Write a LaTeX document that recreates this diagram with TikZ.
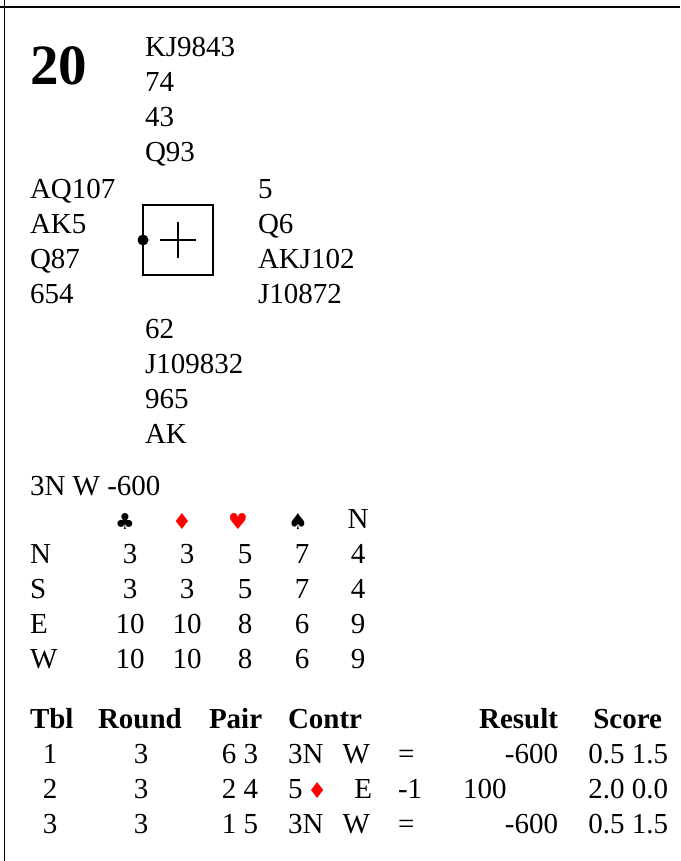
\documentclass[tikz,border=0pt]{standalone}
\usepackage{fontspec}
\setmainfont{Liberation Serif}
\newfontfamily\symf{DejaVu Sans}
\definecolor{suitred}{RGB}{255,0,0}
\newcommand{\suitsym}[1]{{\symf\fontsize{22}{22}\selectfont #1}}
\begin{document}
\begin{tikzpicture}[x=1pt,y=-1pt,
  every node/.style={inner sep=0pt,outer sep=0pt,font=\fontsize{29}{35}\selectfont},
  txt/.style={anchor=base west},
  txtr/.style={anchor=base east},
  txtc/.style={anchor=base},
  hdr/.style={font=\fontsize{29}{35}\selectfont\bfseries},
  frame/.style={line width=1.5pt},
  red/.style={text=suitred}]
\useasboundingbox (0,0) rectangle (680,861);
% frame
\coordinate (ftl) at (4.5,0); \coordinate (fbl) at (4.5,861);
\coordinate (hl) at (0,7); \coordinate (hr) at (680,7);
\draw[frame] (ftl) -- (fbl);
\draw[frame] (hl) -- (hr);
% board number
\node[txt,font=\fontsize{57}{60}\selectfont\bfseries] (bn) at (30,85) {20};
% North
\node[txt] (n1) at (145,57) {KJ9843};
\node[txt] (n2) at (145,92) {74};
\node[txt] (n3) at (145,127) {43};
\node[txt] (n4) at (145,162) {Q93};
% West
\node[txt] (w1) at (30,198) {AQ107};
\node[txt] (w2) at (30,233) {AK5};
\node[txt] (w3) at (30,268) {Q87};
\node[txt] (w4) at (30,303) {654};
% East
\node[txt] (e1) at (258,198) {5};
\node[txt] (e2) at (258,233) {Q6};
\node[txt] (e3) at (258,268) {AKJ102};
\node[txt] (e4) at (258,303) {J10872};
% South
\node[txt] (s1) at (145,338) {62};
\node[txt] (s2) at (145,373) {J109832};
\node[txt] (s3) at (145,408) {965};
\node[txt] (s4) at (145,443) {AK};
% compass
\node[draw,line width=1.3pt,minimum size=70pt] (box) at (178,240) {};
\draw[line width=1.2pt] ([xshift=-18pt]box.center) -- ([xshift=18pt]box.center);
\draw[line width=1.2pt] ([yshift=-18pt]box.center) -- ([yshift=18pt]box.center);
\fill (box.west) circle (5.5pt);
% contract
\node[txt] (res) at (30,495) {3N W -600};
% DD table
\node[txtc] (hc) at (125,529) {\suitsym{♣}};
\node[txtc,red] (hd) at (182,529) {\suitsym{♦}};
\node[txtc,red] (hh) at (238,529) {\suitsym{♥}};
\node[txtc] (hs) at (298,529) {\suitsym{♠}};
\node[txtc] (hn) at (358,528) {N};
\node[txt] (rN) at (30,563) {N};
\node[txt] (rS) at (30,598) {S};
\node[txt] (rE) at (30,633) {E};
\node[txt] (rW) at (30,668) {W};
\foreach \y/\r/\a/\b/\c/\d/\e in {563/N/3/3/5/7/4,598/S/3/3/5/7/4,633/E/10/10/8/6/9,668/W/10/10/8/6/9}{
  \node[txtc] (c\r) at (130,\y) {\a};
  \node[txtc] (d\r) at (187,\y) {\b};
  \node[txtc] (h\r) at (245,\y) {\c};
  \node[txtc] (s\r) at (302,\y) {\d};
  \node[txtc] (n\r) at (358,\y) {\e};
}
% results table
\node[txt,hdr] (tTbl) at (30,728) {Tbl};
\node[txt,hdr] (tRound) at (98,728) {Round};
\node[txt,hdr] (tPair) at (209,728) {Pair};
\node[txt,hdr] (tContr) at (288,728) {Contr};
\node[txtr,hdr] (tResult) at (558,728) {Result};
\node[txtr,hdr] (tScore) at (662,728) {Score};
% row 1
\node[txtc] (a1) at (50,763) {1};
\node[txtc] (b1) at (141,763) {3};
\node[txtr] (p1) at (258,763) {6 3};
\node[txt] (k1) at (288,763) {3N};
\node[txtr] (dc1) at (370,763) {W};
\node[txt] (r1) at (398,763) {=};
\node[txtr] (sc1) at (558,763) {-600};
\node[txtr] (pt1) at (668,763) {0.5 1.5};
% row 2
\node[txtc] (a2) at (50,798) {2};
\node[txtc] (b2) at (141,798) {3};
\node[txtr] (p2) at (258,798) {2 4};
\node[txt] (k2) at (288,798) {5\,{\color{suitred}\suitsym{♦}}};
\node[txtr] (dc2) at (372,798) {E};
\node[txt] (r2) at (398,798) {-1};
\node[txt] (sc2) at (463,798) {100};
\node[txtr] (pt2) at (668,798) {2.0 0.0};
% row 3
\node[txtc] (a3) at (50,833) {3};
\node[txtc] (b3) at (141,833) {3};
\node[txtr] (p3) at (258,833) {1 5};
\node[txt] (k3) at (288,833) {3N};
\node[txtr] (dc3) at (370,833) {W};
\node[txt] (r3) at (398,833) {=};
\node[txtr] (sc3) at (558,833) {-600};
\node[txtr] (pt3) at (668,833) {0.5 1.5};
\end{tikzpicture}
\end{document}
